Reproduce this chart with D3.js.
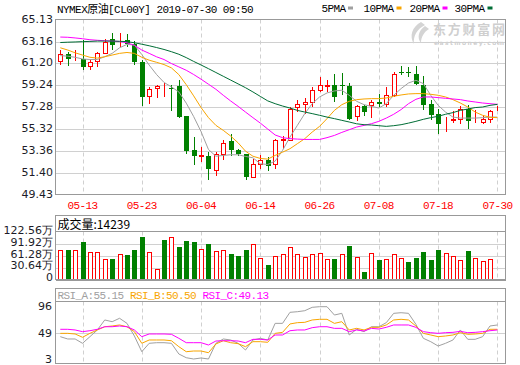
<!DOCTYPE html>
<html>
<head>
<meta charset="utf-8">
<title>NYMEX原油</title>
<script src="https://cdn.jsdelivr.net/npm/d3@7"></script>
<style>
  body { margin: 0; background: #fff; }
  svg { display: block; }
  .mono { font-family: "Liberation Mono", "DejaVu Sans Mono", "Noto Sans CJK SC", monospace; font-size: 11px; letter-spacing: -0.6px; }
  .num { font-family: "DejaVu Sans", sans-serif; font-size: 11px; fill: #1c1c28; }
</style>
</head>
<body>
<div id="chart"></div>
<script>
// trading days on the chart
const dates = ["05-08","05-09","05-10","05-13","05-14","05-15","05-16","05-17","05-20","05-21",
  "05-22","05-23","05-24","05-27","05-28","05-29","05-30","05-31","06-03","06-04",
  "06-05","06-06","06-07","06-10","06-11","06-12","06-13","06-14","06-17","06-18",
  "06-19","06-20","06-21","06-24","06-25","06-26","06-27","06-28","07-01","07-02",
  "07-03","07-04","07-05","07-08","07-09","07-10","07-11","07-12","07-15","07-16",
  "07-17","07-18","07-19","07-22","07-23","07-24","07-25","07-26","07-29","07-30"];
const tickDates = ["05-13","05-23","06-04","06-14","06-26","07-08","07-18","07-30"];

// daily candles
const open = [61.43,62.03,61.74,61.64,60.98,61.43,62.14,63.35,63.08,63.28,
  62.98,61.34,58.26,59.00,59.05,59.04,59.16,56.47,53.42,52.93,
  52.88,51.69,53.12,54.25,53.42,53.06,51.08,52.16,52.58,52.22,
  54.38,54.38,57.30,57.55,57.75,58.86,59.20,59.25,59.25,59.16,
  56.47,57.36,57.45,57.75,57.60,58.41,60.45,60.44,60.23,59.25,
  57.54,56.71,55.92,56.18,56.26,57.16,55.92,55.96,56.26,57.10];
const high = [62.38,62.23,62.38,63.28,61.49,62.23,63.43,63.88,63.88,63.79,
  63.22,61.49,59.09,59.31,59.45,59.25,59.69,56.53,54.61,53.71,
  53.26,53.26,54.31,54.85,53.57,53.12,52.67,52.97,52.82,54.46,
  54.67,57.30,57.96,58.14,59.09,59.99,59.76,60.23,60.30,59.45,
  57.45,57.52,57.90,58.50,59.09,60.44,60.95,60.89,60.95,60.05,
  57.90,57.16,56.40,56.94,57.36,57.45,57.00,56.56,57.07,57.36];
const low = [61.04,61.00,61.43,60.59,60.65,60.89,62.09,62.38,62.68,62.68,
  61.04,57.36,57.54,58.14,58.20,56.94,56.35,53.12,52.07,52.37,
  50.73,51.17,52.58,52.94,52.88,50.73,50.97,51.80,51.56,51.77,
  53.57,54.31,56.85,56.71,57.30,58.65,58.65,57.75,58.35,56.11,
  56.02,56.47,56.35,57.30,57.30,58.20,60.14,59.99,59.25,57.07,
  56.17,54.85,55.06,55.86,55.81,55.36,55.86,55.81,55.86,56.94];
const close = [62.00,61.64,61.78,60.89,61.31,62.10,63.13,62.83,63.12,62.98,
  61.34,58.20,58.95,59.18,59.10,58.98,56.40,53.35,52.91,52.98,
  51.77,53.06,54.07,53.42,53.06,51.08,52.16,52.58,51.98,54.31,
  54.43,57.16,57.60,57.75,58.80,59.25,59.25,58.20,59.20,56.26,
  57.36,56.85,57.75,57.60,58.35,60.21,60.38,60.35,59.40,57.45,
  56.56,55.75,55.95,56.25,57.16,56.04,55.96,56.20,56.94,57.16];

// moving averages
const ma5 = [61.90,61.85,61.75,61.60,61.55,61.55,61.80,62.10,62.60,62.90,
  62.85,62.00,61.05,60.20,59.50,59.10,58.65,57.65,56.45,55.10,
  53.50,52.90,52.97,53.03,53.03,52.88,52.76,52.22,52.16,52.46,
  53.42,54.61,55.66,56.71,57.60,58.20,58.56,58.74,58.80,58.35,
  57.81,57.51,57.36,57.21,57.60,58.35,58.95,59.45,59.69,59.40,
  58.35,57.45,56.85,56.40,56.31,56.31,56.31,56.35,56.40,56.40];
const ma10 = [62.60,62.40,62.15,61.95,61.75,61.68,61.80,61.95,62.10,62.18,
  62.10,61.75,61.49,61.30,61.10,60.80,60.20,59.30,58.30,57.25,
  56.35,55.66,55.21,54.70,54.10,53.35,52.90,52.70,52.64,52.97,
  53.26,53.57,54.02,54.47,55.06,55.57,56.26,57.00,57.51,57.81,
  57.96,58.02,58.05,58.05,58.11,58.26,58.38,58.47,58.50,58.50,
  58.44,58.35,58.20,57.96,57.66,57.30,56.85,56.56,56.38,56.35];
const ma20 = [63.56,63.54,63.48,63.41,63.32,63.27,63.23,63.20,63.16,63.05,
  62.82,62.40,62.10,61.79,61.55,61.19,60.89,60.59,60.21,59.79,
  59.34,58.89,58.35,57.84,57.36,56.85,56.35,55.86,55.33,54.80,
  54.56,54.47,54.43,54.40,54.40,54.40,54.56,54.76,55.03,55.27,
  55.51,55.66,55.81,56.02,56.31,56.65,57.07,57.60,57.99,58.20,
  58.20,58.14,58.08,58.02,57.96,57.84,57.75,57.66,57.60,57.54];
const ma30 = [63.07,63.10,63.12,63.15,63.17,63.20,63.20,63.20,63.18,63.15,
  63.05,62.92,62.78,62.62,62.45,62.25,62.02,61.72,61.38,61.06,
  60.73,60.39,60.05,59.71,59.37,59.03,58.65,58.25,57.85,57.60,
  57.39,57.21,57.00,56.85,56.71,56.56,56.40,56.26,56.11,55.96,
  55.80,55.72,55.69,55.63,55.57,55.63,55.72,55.86,56.02,56.20,
  56.35,56.47,56.65,56.80,57.00,57.12,57.25,57.30,57.45,57.54];
const maNames = ["5PMA", "10PMA", "20PMA", "30PMA"];

// volume in 万, direction 1 = up (red), -1 = down (green)
const volume = [76.4,76.4,76.4,97.3,73.0,71.2,52.2,52.9,66.0,63.4,
  76.4,111.1,73.0,26.1,102.5,110.3,85.0,99.9,97.3,80.8,
  92.0,75.6,78.2,66.0,60.8,76.4,91.3,54.8,37.3,60.8,
  66.0,83.5,66.0,57.4,66.0,67.8,52.2,52.9,66.0,86.8,
  57.4,19.0,67.8,50.3,52.2,65.2,54.8,45.1,55.6,71.2,
  50.3,76.4,70.4,60.8,49.6,73.8,54.8,47.0,52.2,1.42];
const volDir = [1,-1,1,-1,1,1,1,-1,1,-1, -1,-1,1,1,-1,1,-1,-1,-1,1,
  -1,1,1,-1,-1,-1,1,1,-1,1, 1,1,1,1,1,1,1,-1,1,-1,
  1,-1,1,-1,1,1,1,-1,-1,-1, -1,-1,1,1,1,-1,1,1,1,1];
const volTicks = [0, 30.64, 61.28, 91.92, 122.56];
const lastVolume = 14239;

const priceTicks = [49.43, 51.40, 53.36, 55.32, 57.28, 59.24, 61.20, 63.16, 65.13];

// RSI lines
const rsiA = [42.7,38.6,38.6,30.9,42.7,54.6,72.4,69.3,75.4,66.4,
  43.9,16.0,30.9,32.0,32.0,30.9,11.9,5.3,3.0,4.8,
  3.0,30.9,38.6,36.8,30.9,19.0,36.8,39.8,36.8,66.4,
  66.4,86.0,87.1,88.9,94.9,96.0,96.0,81.2,84.2,45.7,
  55.8,51.6,60.4,60.4,67.6,84.2,85.3,84.2,64.7,39.8,
  33.8,26.1,30.9,36.8,54.6,38.0,38.0,42.7,61.7,63.5];
const rsiB = [48.6,48.6,47.5,41.6,48.6,54.6,60.4,61.7,63.5,60.4,
  51.6,30.9,36.8,36.8,36.8,35.5,24.9,16.0,17.2,17.2,
  14.2,29.7,35.5,32.0,30.3,24.9,33.8,33.8,32.7,48.6,
  50.4,65.3,67.6,68.2,72.4,73.6,73.6,66.4,69.3,54.6,
  57.5,54.6,59.3,59.3,63.5,72.4,73.6,72.4,61.7,48.6,
  45.7,42.7,43.9,45.7,49.8,46.9,47.5,48.6,55.8,55.8];
const rsiC = [55.8,55.8,54.6,51.6,53.3,55.8,60.4,60.4,61.7,60.4,
  54.6,42.7,47.5,47.5,47.5,46.9,39.8,32.0,32.0,32.0,
  27.9,35.0,35.5,35.5,35.0,32.0,38.0,38.0,36.8,45.7,
  45.7,53.3,54.6,54.6,58.7,60.4,60.4,57.5,57.5,51.6,
  54.6,52.8,57.5,56.3,59.3,63.5,63.5,63.5,59.3,51.6,
  49.8,48.6,49.8,50.4,52.1,49.8,50.4,51.6,53.3,54.6];
const rsiNames = ["RSI_A", "RSI_B", "RSI_C"];
const rsiLast = ["55.15", "50.50", "49.13"];
const rsiTicks = [3, 49, 96];

//  sizes and colours
const w = 520, h = 365;
const left = 55.5, right = 505.5;
const red = "#ff0000", green = "#008000";
const border = "#999", grid = "#d0d0d0";
const maColors = ["#a0a0a0", "#f8a500", "#ff00ff", "#006d35"];
const rsiColors = ["#a0a0a0", "#f8a500", "#ff00ff"];

const svg = d3.select("#chart").append("svg")
  .attr("width", w)
  .attr("height", h);

const x = d3.scalePoint().domain(dates).range([60.3, 497.4]);
const px = d => Math.round(x(d)) + 0.5;
const crisp = v => Math.round(v) + 0.5;

const y = d3.scaleLinear().domain([49.43, 65.13]).range([195, 19.5]);
const yv = d3.scaleLinear().domain([0, 122.56]).range([279.5, 232.5]);
const yr = d3.scaleLinear().domain([3, 96]).range([359, 306.7]);

// ---- grid ----
const gridG = svg.append("g");
gridG.selectAll("line.hp")
  .data(priceTicks.slice(1, -1))
  .join("line")
    .attr("x1", left).attr("x2", right)
    .attr("y1", d => crisp(y(d))).attr("y2", d => crisp(y(d)))
    .attr("stroke", grid);
gridG.selectAll("line.hv")
  .data(volTicks.slice(1, -1))
  .join("line")
    .attr("x1", left).attr("x2", right)
    .attr("y1", d => crisp(yv(d))).attr("y2", d => crisp(yv(d)))
    .attr("stroke", grid);
gridG.append("line")
  .attr("x1", left).attr("x2", right)
  .attr("y1", crisp(yr(49))).attr("y2", crisp(yr(49)))
  .attr("stroke", grid);

[[19.5, 194.5], [231.5, 279.5], [301.5, 363.5]].forEach(([y1, y2]) => {
  gridG.append("g").selectAll("line")
    .data(tickDates)
    .join("line")
      .attr("x1", d => px(d)).attr("x2", d => px(d))
      .attr("y1", y1).attr("y2", y2)
      .attr("stroke", grid)
      .attr("stroke-dasharray", "4,3");
});

// ---- watermark ----
const wm = svg.append("g").attr("fill", "#cfcfcf");
wm.append("path")
  .attr("d", "M421,22 C412,27 409,36 414,44 C413,36 417,29 425,25 Z M425,26 C418,31 417,38 421,43 C421,37 424,32 429,29 Z")
  .attr("fill", "#d4d4d4");
wm.append("text")
  .attr("x", 433).attr("y", 34)
  .attr("font-family", "Noto Sans CJK SC")
  .attr("font-size", 13).attr("font-weight", "bold")
  .attr("textLength", 72)
  .text("东方财富网");
wm.append("text")
  .attr("x", 434).attr("y", 45)
  .attr("font-family", "DejaVu Sans")
  .attr("font-size", 6).attr("font-weight", "bold")
  .attr("textLength", 70)
  .text("eastmoney.com");

// ---- candles ----
const candles = dates.map((d, i) => ({ date: d, o: open[i], h: high[i], l: low[i], c: close[i] }));
const up = d => d.c >= d.o;
const cg = svg.append("g").attr("shape-rendering", "crispEdges");
cg.selectAll("line")
  .data(candles)
  .join("line")
    .attr("x1", d => px(d.date)).attr("x2", d => px(d.date))
    .attr("y1", d => Math.round(y(d.h))).attr("y2", d => Math.round(y(d.l)))
    .attr("stroke", d => up(d) ? red : green);
cg.selectAll("rect")
  .data(candles)
  .join("rect")
    .attr("x", d => up(d) ? px(d.date) - 2 : px(d.date) - 2.5)
    .attr("y", d => up(d) ? crisp(y(d.c)) : Math.round(y(d.o)))
    .attr("width", d => up(d) ? 4 : 5)
    .attr("height", d => up(d)
      ? Math.round(y(d.o)) - Math.round(y(d.c))
      : Math.max(1, Math.round(y(d.c)) - Math.round(y(d.o))))
    .attr("fill", d => up(d) ? "#fff" : green)
    .attr("stroke", d => up(d) ? red : "none");

// ---- moving averages ----
const maLine = d3.line().x((v, i) => x(dates[i])).y(v => y(v));
[ma5, ma10, ma20, ma30].forEach((s, k) => {
  svg.append("path")
    .attr("d", maLine(s))
    .attr("fill", "none")
    .attr("stroke", maColors[k])
    .attr("stroke-width", 1);
});

// ---- volume ----
const vg = svg.append("g").attr("shape-rendering", "crispEdges");
vg.selectAll("rect")
  .data(volume)
  .join("rect")
    .attr("x", (v, i) => volDir[i] > 0 ? px(dates[i]) - 2 : px(dates[i]) - 2.5)
    .attr("y", (v, i) => volDir[i] > 0 ? crisp(yv(v)) : Math.round(yv(v)))
    .attr("width", (v, i) => volDir[i] > 0 ? 4 : 5)
    .attr("height", (v, i) => volDir[i] > 0 ? 279.5 - crisp(yv(v)) : 280 - Math.round(yv(v)))
    .attr("fill", (v, i) => volDir[i] > 0 ? "#fff" : green)
    .attr("stroke", (v, i) => volDir[i] > 0 ? red : "none");

// ---- RSI ----
const rsiLine = d3.line().x((v, i) => x(dates[i])).y(v => yr(v));
[rsiA, rsiB, rsiC].forEach((s, k) => {
  svg.append("path")
    .attr("d", rsiLine(s))
    .attr("fill", "none")
    .attr("stroke", rsiColors[k])
    .attr("stroke-width", 1);
});

// ---- frames ----
const fg = svg.append("g").attr("fill", "none").attr("stroke", border).attr("shape-rendering", "crispEdges");
fg.append("rect").attr("x", left).attr("y", 19.5).attr("width", right - left).attr("height", 175);
fg.append("rect").attr("x", left).attr("y", 215.5).attr("width", right - left).attr("height", 64);
fg.append("line").attr("x1", left).attr("x2", right).attr("y1", 231.5).attr("y2", 231.5);
fg.append("line").attr("x1", left).attr("x2", right).attr("y1", 280.5).attr("y2", 280.5);
fg.append("rect").attr("x", left).attr("y", 288.5).attr("width", right - left).attr("height", 75);
fg.append("line").attr("x1", left).attr("x2", right).attr("y1", 301.5).attr("y2", 301.5);

// ---- axis labels ----
svg.append("g").selectAll("text")
  .data(priceTicks)
  .join("text")
    .attr("class", "num")
    .attr("x", 53).attr("y", d => y(d) - 0.5)
    .attr("text-anchor", "end")
    .attr("dominant-baseline", "central")
    .text(d => d.toFixed(2));

svg.append("g").selectAll("text")
  .data(tickDates)
  .join("text")
    .attr("class", "mono")
    .attr("x", d => x(d))
    .attr("y", 208.5)
    .attr("text-anchor", "middle")
    .attr("fill", red)
    .text(d => d);

svg.append("g").selectAll("text")
  .data(volTicks)
  .join("text")
    .attr("class", "num")
    .attr("x", 53).attr("y", d => yv(d) - 2)
    .attr("text-anchor", "end")
    .attr("dominant-baseline", "central")
    .text(d => d === 0 ? "0" : d.toFixed(2) + "万");

svg.append("g").selectAll("text")
  .data(rsiTicks)
  .join("text")
    .attr("class", "num")
    .attr("x", 52).attr("y", d => yr(d))
    .attr("text-anchor", "end")
    .attr("dominant-baseline", "central")
    .text(d => d);

// ---- title and legends ----
svg.append("text")
  .attr("class", "mono")
  .attr("x", 57).attr("y", 12.5)
  .attr("fill", "#000")
  .attr("textLength", 196)
  .text("NYMEX原油[CL00Y] 2019-07-30 09:50");

const legX = [321.5, 363.5, 409.5, 454.5];
const keyX = [348, 396.5, 442.5, 487.5];
const leg = svg.append("g");
maNames.forEach((name, k) => {
  leg.append("text")
    .attr("class", "mono")
    .attr("x", legX[k]).attr("y", 12)
    .attr("fill", "#000")
    .text(name);
  leg.append("rect")
    .attr("x", keyX[k]).attr("y", 6.5)
    .attr("width", 5).attr("height", 3)
    .attr("fill", maColors[k]);
});

svg.append("text")
  .attr("x", 57.5).attr("y", 228.5)
  .attr("font-family", "Noto Sans CJK SC")
  .attr("font-size", 12)
  .attr("fill", "#000")
  .text("成交量:" + lastVolume);

const rsiX = [57.5, 130, 202.5];
rsiNames.forEach((name, k) => {
  svg.append("text")
    .attr("class", "mono")
    .attr("x", rsiX[k]).attr("y", 298.5)
    .attr("fill", rsiColors[k])
    .text(name + ":" + rsiLast[k]);
});
</script>
</body>
</html>
